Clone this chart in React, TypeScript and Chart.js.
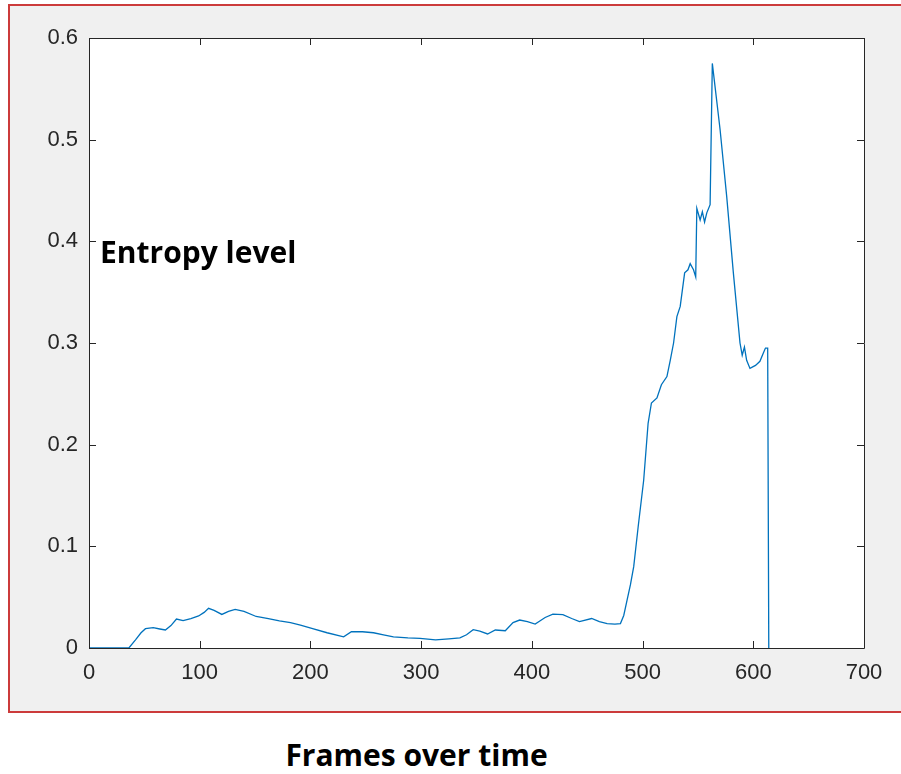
import React, { useEffect, useRef } from "react";
import { Chart, registerables } from "chart.js";

Chart.register(...registerables);

const frames = [
  0, 36, 42, 47, 51, 58, 64, 69, 74, 79, 85, 92, 99, 104, 108, 113, 120, 126, 132, 140,
  151, 162, 172, 182, 191, 202, 215, 230, 237, 247, 257, 266, 275, 288, 299, 313, 325, 335, 341, 347,
  353, 360, 367, 376, 383, 389, 396, 403, 412, 419, 428, 436, 443, 454, 461, 468, 475, 480, 483, 486,
  489, 492, 496, 501, 505, 508, 513, 517, 522, 525, 528, 531, 534, 538, 541, 543, 546, 548, 549, 552,
  554, 556, 558, 561, 563, 570, 576, 582, 588, 590, 592, 594, 597, 602, 606, 609, 611, 613, 614,
];
const entropy = [
  0, 0, 0.008, 0.015, 0.019, 0.02, 0.0187, 0.0177, 0.022, 0.0285, 0.027, 0.029, 0.0315, 0.035, 0.039, 0.037, 0.033, 0.036, 0.038, 0.036,
  0.031, 0.029, 0.0266, 0.025, 0.0226, 0.019, 0.015, 0.011, 0.016, 0.016, 0.015, 0.013, 0.011, 0.01, 0.0095, 0.0079, 0.009, 0.01, 0.013, 0.018,
  0.0167, 0.0138, 0.0177, 0.017, 0.025, 0.0275, 0.026, 0.0236, 0.03, 0.0334, 0.0328, 0.029, 0.026, 0.029, 0.026, 0.024, 0.0235, 0.024, 0.032, 0.047,
  0.062, 0.08, 0.119, 0.165, 0.221, 0.241, 0.246, 0.259, 0.267, 0.283, 0.3, 0.326, 0.336, 0.369, 0.372, 0.378, 0.372, 0.365, 0.4325, 0.421,
  0.429, 0.419, 0.428, 0.436, 0.575, 0.51, 0.444, 0.369, 0.3, 0.288, 0.296, 0.283, 0.275, 0.278, 0.282, 0.29, 0.295, 0.295, 0,
];
const xTicks = [0, 100, 200, 300, 400, 500, 600, 700];
const yTicks = [0, 0.1, 0.2, 0.3, 0.4, 0.5, 0.6];
const yLabel = "Entropy level";
const xLabel = "Frames over time";

const AXIS = "#262626";

const boxPlugin = {
  id: "matlabBox",
  beforeDraw(chart: any) {
    const { ctx, chartArea: a } = chart;
    ctx.save();
    ctx.fillStyle = "#ffffff";
    ctx.fillRect(a.left, a.top, a.right - a.left, a.bottom - a.top);
    ctx.restore();
  },
  afterDraw(chart: any) {
    const { ctx, chartArea: a, scales } = chart;
    const tl = 7;
    ctx.save();
    ctx.strokeStyle = AXIS;
    ctx.lineWidth = 1;
    ctx.beginPath();
    ctx.rect(Math.round(a.left) + 0.5, Math.round(a.top) + 0.5, Math.round(a.right - a.left), Math.round(a.bottom - a.top));
    ctx.stroke();
    ctx.beginPath();
    for (const v of xTicks) {
      const px = Math.round(scales.x.getPixelForValue(v)) + 0.5;
      ctx.moveTo(px, a.bottom);
      ctx.lineTo(px, a.bottom - tl);
      ctx.moveTo(px, a.top);
      ctx.lineTo(px, a.top + tl);
    }
    for (const v of yTicks) {
      const py = Math.round(scales.y.getPixelForValue(v)) + 0.5;
      ctx.moveTo(a.left, py);
      ctx.lineTo(a.left + tl, py);
      ctx.moveTo(a.right, py);
      ctx.lineTo(a.right - tl, py);
    }
    ctx.stroke();
    ctx.restore();
  },
};

export default function App() {
  const ref = useRef<HTMLCanvasElement | null>(null);

  useEffect(() => {
    if (!ref.current) return;
    const points = frames.map((f, i) => ({ x: f, y: entropy[i] }));
    const chart = new Chart(ref.current, {
      type: "line",
      data: {
        datasets: [
          {
            data: points,
            borderColor: "#0072BD",
            borderWidth: 1.3,
            pointRadius: 0,
            tension: 0,
            fill: false,
          },
        ],
      },
      options: {
        animation: false,
        responsive: false,
        maintainAspectRatio: false,
        events: [],
        layout: { padding: { left: 0, right: 37, top: 38, bottom: 0 } },
        plugins: { legend: { display: false }, tooltip: { enabled: false } },
        scales: {
          x: {
            type: "linear",
            min: 0,
            max: 700,
            afterBuildTicks: (s: any) => {
              s.ticks = xTicks.map((v) => ({ value: v }));
            },
            afterFit: (s: any) => {
              s.height = 72;
            },
            grid: { display: false, drawTicks: false },
            border: { display: false },
            ticks: {
              padding: 12,
              color: AXIS,
              font: { family: "'Liberation Sans', Arial, sans-serif", size: 22 },
              maxRotation: 0,
              callback: (v: any) => String(v),
            },
          },
          y: {
            type: "linear",
            min: 0,
            max: 0.6,
            afterBuildTicks: (s: any) => {
              s.ticks = yTicks.map((v) => ({ value: v }));
            },
            afterFit: (s: any) => {
              s.width = 89;
            },
            grid: { display: false, drawTicks: false },
            border: { display: false },
            ticks: {
              padding: 11,
              color: AXIS,
              font: { family: "'Liberation Sans', Arial, sans-serif", size: 22 },
              callback: (v: any) => String(Math.round(v * 10) / 10),
            },
          },
        },
      },
      plugins: [boxPlugin],
    });
    return () => chart.destroy();
  }, []);

  return (
    <div style={{ position: "absolute", left: 0, top: 0, width: 901, height: 774, background: "#ffffff", overflow: "hidden" }}>
      <div
        style={{
          position: "absolute",
          left: 8,
          top: 4,
          width: 900,
          height: 709,
          background: "#f0f0f0",
          border: "2px solid #cc3b3b",
          boxSizing: "border-box",
        }}
      />
      <canvas ref={ref} width={901} height={720} style={{ position: "absolute", left: 0, top: 0, width: 901, height: 720 }} />
      <div
        style={{
          position: "absolute",
          left: 100,
          top: 232,
          fontFamily: "'Open Sans', 'Noto Sans', sans-serif",
          fontWeight: 700,
          fontSize: 30,
          lineHeight: "40px",
          color: "#000000",
          whiteSpace: "nowrap",
        }}
      >
        {yLabel}
      </div>
      <div
        style={{
          position: "absolute",
          left: 0,
          width: 833,
          top: 735,
          textAlign: "center",
          fontFamily: "'Open Sans', 'Noto Sans', sans-serif",
          fontWeight: 700,
          fontSize: 30,
          lineHeight: "40px",
          color: "#000000",
          whiteSpace: "nowrap",
        }}
      >
        {xLabel}
      </div>
    </div>
  );
}
